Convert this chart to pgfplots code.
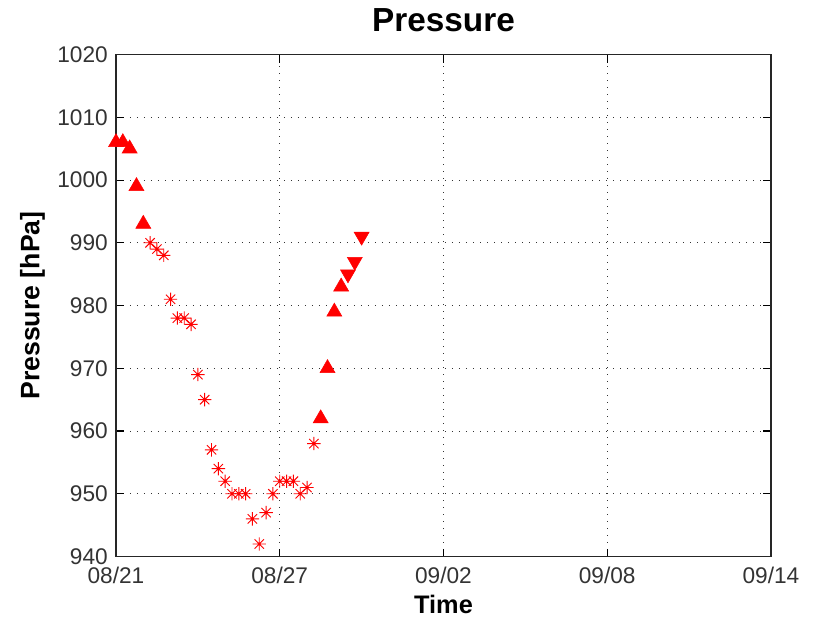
\documentclass[border=0pt]{standalone}
\usepackage{fontspec}
\setmainfont{Liberation Sans}
\usepackage{pgfplots}
\pgfplotsset{compat=1.18}
\usepackage{pgfplotstable}

% MATLAB style asterisk: a plus and a cross
\pgfdeclareplotmark{mstar}{%
  \pgfpathmoveto{\pgfqpoint{-\pgfplotmarksize}{0pt}}%
  \pgfpathlineto{\pgfqpoint{\pgfplotmarksize}{0pt}}%
  \pgfpathmoveto{\pgfqpoint{0pt}{-\pgfplotmarksize}}%
  \pgfpathlineto{\pgfqpoint{0pt}{\pgfplotmarksize}}%
  \pgfpathmoveto{\pgfqpoint{-0.7\pgfplotmarksize}{-0.7\pgfplotmarksize}}%
  \pgfpathlineto{\pgfqpoint{0.7\pgfplotmarksize}{0.7\pgfplotmarksize}}%
  \pgfpathmoveto{\pgfqpoint{-0.7\pgfplotmarksize}{0.7\pgfplotmarksize}}%
  \pgfpathlineto{\pgfqpoint{0.7\pgfplotmarksize}{-0.7\pgfplotmarksize}}%
  \pgfusepathqstroke}

% days since 08/21, pressure in hPa
\pgfplotstableread{
t p
0.00 1006
0.25 1006
0.50 1005
0.75 999
1.00 993
7.50 962
7.75 970
8.00 979
8.25 983
}\uptri
\pgfplotstableread{
t p
1.25 990
1.50 989
1.75 988
2.00 981
2.25 978
2.50 978
2.75 977
3.00 969
3.25 965
3.50 957
3.75 954
4.00 952
4.25 950
4.50 950
4.75 950
5.00 946
5.25 942
5.50 947
5.75 950
6.00 952
6.25 952
6.50 952
6.75 950
7.00 951
7.25 958
}\stars
\pgfplotstableread{
t p
8.50 985
8.75 987
9.00 991
}\downtri

\begin{document}
\begin{tikzpicture}
\path[use as bounding box] (-87pt,-47.6pt) rectangle (527.25pt,417.4pt);
\begin{axis}[
    at={(0,0)}, anchor=south west,
    scale only axis,
    width=491.25pt, height=376.5pt,
    xmin=0, xmax=24, ymin=940, ymax=1020,
    xtick={0,6,12,18,24},
    xticklabels={08/21,08/27,09/02,09/08,09/14},
    ytick={940,950,...,1020},
    /pgf/number format/1000 sep={},
    /pgf/number format/assume math mode=true,
    tick align=inside,
    major tick length=6pt,
    tick style={black, line width=0.8pt},
    axis line style={black!85, line width=0.8pt},
    grid=major,
    major grid style={black!80, line width=0.75pt, dash pattern=on 0.75pt off 4.5pt},
    ticklabel style={font=\fontsize{17}{20}\selectfont, text=black!80},
    xticklabel style={inner sep=0pt, anchor=north, yshift=-8pt},
    yticklabel style={inner sep=0pt, anchor=east, xshift=-6pt},
    title={Pressure},
    title style={font=\bfseries\fontsize{25}{30}\selectfont,
        at={(axis description cs:0.5,1.029)}, anchor=base},
    xlabel={Time},
    xlabel style={font=\bfseries\fontsize{19}{23}\selectfont,
        at={(axis description cs:0.5,-0.1142)}, anchor=base},
    ylabel={Pressure [hPa]},
    ylabel style={font=\bfseries\fontsize{20}{24}\selectfont,
        at={(axis description cs:-0.1168,0.5)}, anchor=base, rotate=0},
    clip=false,
]
\addplot[only marks, mark=triangle*, mark size=6.5pt, color=red,
    mark options={fill=red, draw=red}] table {\uptri};
\addplot[only marks, mark=mstar, mark size=5pt, color=red,
    mark options={line width=0.7pt}] table {\stars};
\addplot[only marks, mark=triangle*, mark size=6.5pt, color=red,
    mark options={fill=red, draw=red, rotate=180}] table {\downtri};
\end{axis}
\end{tikzpicture}
\end{document}
